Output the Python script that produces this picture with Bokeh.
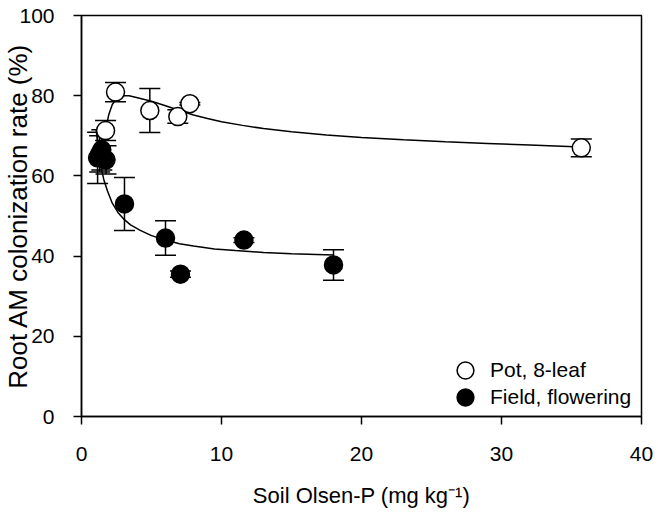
from bokeh.plotting import figure
from bokeh.models import (Range1d, Whisker, ColumnDataSource, TeeHead, FixedTicker,
                          Legend, LegendItem)
from bokeh.embed import file_html
from bokeh.resources import INLINE

# ---- data ----
pot_x = [1.3, 1.72, 2.43, 4.88, 6.88, 7.74, 35.7]
pot_y = [65.5, 71.3, 80.9, 76.3, 74.8, 78.0, 67.0]
pot_err = [4.5, 2.5, 2.4, 5.5, 1.7, 0.3, 2.2]

field_x = [1.15, 1.45, 1.75, 3.07, 6.0, 7.07, 11.6, 18.0]
field_y = [64.5, 66.5, 64.0, 53.0, 44.5, 35.5, 44.0, 37.8]
field_err = [6.4, 5.0, 3.5, 6.6, 4.3, 0.8, 0.6, 3.8]

pot_fit_x = [1.45, 1.6, 1.75, 1.95, 2.2, 2.5, 2.9, 3.4, 4.0, 5.0, 6.0, 7.0, 8.0, 9.0, 10.0,
             11.5, 13.0, 15.0, 17.5, 20.0, 23.0, 26.0, 29.0, 32.0, 35.7]
pot_fit_y = [64.5, 68.5, 72.0, 75.3, 77.8, 79.3, 80.0, 80.0, 79.5, 78.6, 77.5, 76.3, 75.2, 74.3, 73.5,
             72.6, 71.8, 71.0, 70.2, 69.6, 69.0, 68.5, 68.1, 67.7, 67.2]

field_fit_x = [1.05, 1.2, 1.4, 1.6, 1.85, 2.2, 2.6, 3.0, 3.5, 4.2, 5.0, 6.0, 7.0, 8.0, 9.5,
               11.0, 13.0, 15.0, 18.0]
field_fit_y = [71.5, 66.5, 62.0, 59.0, 56.3, 53.2, 50.9, 49.3, 47.8, 46.4, 45.1, 44.0, 43.1, 42.5, 41.8,
               41.4, 40.9, 40.6, 40.3]

x_ticks = [0, 10, 20, 30, 40]
y_ticks = [0, 20, 40, 60, 80, 100]

x_title = "Soil Olsen-P (mg kg\u207b\u00b9)"
y_title = "Root AM colonization rate (%)"
pot_label = "Pot, 8-leaf"
field_label = "Field, flowering"

FONT = "Liberation Sans"

p = figure(frame_width=560, frame_height=401,
           min_border_left=81, min_border_right=16, min_border_top=15, min_border_bottom=102,
           x_range=Range1d(0, 40), y_range=Range1d(0, 100),
           output_backend="svg", toolbar_location=None)

p.grid.visible = False
p.background_fill_color = "white"
p.border_fill_color = "white"
p.outline_line_color = "black"
p.outline_line_width = 1.5

for ax in (p.xaxis[0], p.yaxis[0]):
    ax.axis_line_width = 1.5
    ax.major_tick_line_width = 1.5
    ax.major_tick_out = 8
    ax.major_tick_in = 0
    ax.minor_tick_out = 0
    ax.minor_tick_in = 0
    ax.major_label_text_font = FONT
    ax.major_label_text_font_size = "21px"
    ax.major_label_text_color = "black"
    ax.axis_label_text_font = FONT
    ax.axis_label_text_font_style = "normal"
    ax.axis_label_text_color = "black"

p.xaxis.ticker = FixedTicker(ticks=x_ticks)
p.yaxis.ticker = FixedTicker(ticks=y_ticks)
p.xaxis.major_label_standoff = 22
p.yaxis.major_label_standoff = 19
p.xaxis.axis_label = x_title
p.yaxis.axis_label = y_title
p.xaxis.axis_label_text_font_size = "22px"
p.yaxis.axis_label_text_font_size = "26px"
p.xaxis.axis_label_standoff = 19
p.yaxis.axis_label_standoff = -17

# fitted curves
p.line(pot_fit_x, pot_fit_y, line_color="black", line_width=1.5)
p.line(field_fit_x, field_fit_y, line_color="black", line_width=1.5)

# pot series
pot_src = ColumnDataSource(dict(x=pot_x, y=pot_y,
                                upper=[a + b for a, b in zip(pot_y, pot_err)],
                                lower=[a - b for a, b in zip(pot_y, pot_err)]))
r_pot = p.scatter("x", "y", source=pot_src, marker="circle", size=18,
                  fill_color="white", line_color="black", line_width=1.5)
p.add_layout(Whisker(source=pot_src, base="x", upper="upper", lower="lower",
                     line_color="black", line_width=1.5,
                     upper_head=TeeHead(size=21, line_width=1.5, line_color="black"),
                     lower_head=TeeHead(size=21, line_width=1.5, line_color="black")))

# field series
field_src = ColumnDataSource(dict(x=field_x, y=field_y,
                                  upper=[a + b for a, b in zip(field_y, field_err)],
                                  lower=[a - b for a, b in zip(field_y, field_err)]))
p.add_layout(Whisker(source=field_src, base="x", upper="upper", lower="lower",
                     line_color="black", line_width=1.5,
                     upper_head=TeeHead(size=21, line_width=1.5, line_color="black"),
                     lower_head=TeeHead(size=21, line_width=1.5, line_color="black")))
r_field = p.scatter("x", "y", source=field_src, marker="circle", size=18,
                    fill_color="black", line_color="black", line_width=1.5)


def make_legend(item, loc):
    lg = Legend(items=[item], location=loc)
    lg.border_line_color = None
    lg.background_fill_alpha = 0
    lg.label_text_font = FONT
    lg.label_text_font_size = "21px"
    lg.label_text_color = "black"
    lg.glyph_width = 42
    lg.glyph_height = 42
    lg.label_height = 42
    lg.label_standoff = 4
    lg.padding = 0
    lg.margin = 0
    return lg


p.add_layout(make_legend(LegendItem(label=pot_label, renderers=[r_pot]), (363, 25)))
p.add_layout(make_legend(LegendItem(label=field_label, renderers=[r_field]), (363, -2)))

open("out.html", "w").write(file_html(p, INLINE))
